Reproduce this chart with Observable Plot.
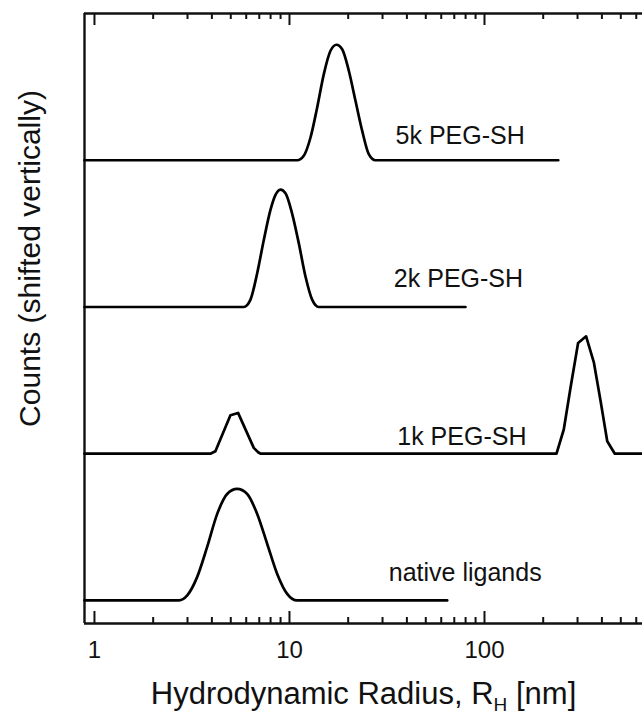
<!DOCTYPE html>
<html><head><meta charset="utf-8">
<script src="https://cdn.jsdelivr.net/npm/d3@7"></script>
<script src="https://cdn.jsdelivr.net/npm/@observablehq/plot@0.6"></script>
<style>
  html,body{margin:0;padding:0;background:#fff;}
  #chart{width:642px;height:715px;}
</style>
</head><body><div id="chart"></div>
<script>
// ---------------- data ----------------
const seriesNames = ["native ligands", "1k PEG-SH", "2k PEG-SH", "5k PEG-SH"];
const verticalShift = [0, 1, 2, 3];

const nativeRadius = [0.889, 2.71, 2.99, 3.36, 3.78, 4.26, 4.79, 5.39, 6.07, 6.83, 7.69, 8.65, 9.73, 10.95, 64.4];
const nativeCounts = [0, 0, 0.034, 0.159, 0.363, 0.59, 0.726, 0.76, 0.726, 0.59, 0.385, 0.181, 0.045, 0, 0];

const peg1kRadius = [0.889, 3.93, 4.17, 4.98, 5.45, 6.56, 6.91, 7.1, 234, 255, 276, 302, 332, 364, 394, 426, 466, 646];
const peg1kCounts = [0, 0, 0.017, 0.262, 0.278, 0.04, 0.01, 0, 0, 0.165, 0.448, 0.755, 0.80, 0.62, 0.358, 0.085, 0, 0];

const peg2kRadius = [0.889, 5.83, 6.31, 6.83, 7.39, 7.99, 8.48, 8.99, 9.54, 10.3, 11.16, 12.08, 13.07, 14.13, 79.9];
const peg2kCounts = [0, 0, 0.05, 0.23, 0.458, 0.662, 0.764, 0.80, 0.775, 0.64, 0.435, 0.208, 0.05, 0, 0];

const peg5kRadius = [0.889, 10.95, 11.84, 12.82, 13.87, 15.0, 16.23, 17.42, 18.63, 20.15, 21.8, 23.6, 25.5, 27.6, 239];
const peg5kCounts = [0, 0, 0.031, 0.155, 0.36, 0.587, 0.746, 0.787, 0.757, 0.61, 0.405, 0.20, 0.042, 0, 0];

const majorTicks = [1, 10, 100];
const majorTickLabels = ["1", "10", "100"];
const minorTicks = [2, 3, 4, 5, 6, 7, 8, 9, 20, 30, 40, 50, 60, 70, 80, 90, 200, 300, 400, 500, 600];

const xTitleMain = "Hydrodynamic Radius, R";
const xTitleSub = "H";
const xTitleEnd = " [nm]";
const yTitle = "Counts (shifted vertically)";

// ---------------- layout (not data) ----------------
const xDomain = [0.889, 646];
const yDomain = [-0.157, 4.0];
const labelRadius = [32.3, 35.7, 34.3, 35.0];
const labelLift = [0.184, 0.117, 0.188, 0.165];

// ---------------- build rows ----------------
const radii = [nativeRadius, peg1kRadius, peg2kRadius, peg5kRadius];
const counts = [nativeCounts, peg1kCounts, peg2kCounts, peg5kCounts];
const rows = [];
seriesNames.forEach((name, i) => {
  radii[i].forEach((r, j) => rows.push({series: name, r, c: counts[i][j] + verticalShift[i]}));
});
const smoothRows = rows.filter(d => d.series !== "1k PEG-SH");
const rows1k = rows.filter(d => d.series === "1k PEG-SH");
const labelRows = seriesNames.map((name, i) => ({name, r: labelRadius[i], y: verticalShift[i] + labelLift[i]}));

const ink = "#111";
const plot = Plot.plot({
  width: 642, height: 715,
  marginLeft: 84, marginRight: 0, marginTop: 13, marginBottom: 92,
  style: {fontFamily: "'Liberation Sans', Arial, Helvetica, sans-serif", background: "#fff", color: ink},
  x: {type: "log", domain: xDomain, axis: null},
  y: {type: "linear", domain: yDomain, axis: null},
  marks: [
    // frame: left, bottom, top
    Plot.ruleX([xDomain[0]], {stroke: ink, strokeWidth: 2.4}),
    Plot.ruleY(yDomain, {stroke: ink, strokeWidth: 2.4}),
    // inward ticks bottom & top
    Plot.ruleX(majorTicks, {stroke: ink, strokeWidth: 2, insetTop: 598}),
    Plot.ruleX(majorTicks, {stroke: ink, strokeWidth: 2, insetBottom: 598}),
    Plot.ruleX(minorTicks, {stroke: ink, strokeWidth: 2, insetTop: 604}),
    Plot.ruleX(minorTicks, {stroke: ink, strokeWidth: 2, insetBottom: 604}),
    // tick labels
    Plot.text(majorTicks, {x: d => d, text: (d, i) => majorTickLabels[i], frameAnchor: "bottom", textAnchor: "middle", lineAnchor: "top", dy: 17, fontSize: 24, fill: ink}),
    // curves
    Plot.line(smoothRows, {x: "r", y: "c", z: "series", curve: "monotone-x", stroke: "#000", strokeWidth: 2.7, strokeLinejoin: "round"}),
    Plot.line(rows1k, {x: "r", y: "c", curve: "linear", stroke: "#000", strokeWidth: 2.7, strokeLinejoin: "round"}),
    // series labels
    Plot.text(labelRows, {x: "r", y: "y", text: "name", textAnchor: "start", lineAnchor: "middle", fontSize: 25, fill: ink}),
    // axis titles
    Plot.text([yTitle], {text: d => d, frameAnchor: "left", rotate: -90, dx: -54, dy: -60, textAnchor: "middle", lineAnchor: "middle", fontSize: 30, fill: ink}),
    Plot.text([xTitleMain], {text: d => d, frameAnchor: "bottom", textAnchor: "middle", lineAnchor: "top", dy: 58, fontSize: 31, fill: ink})
  ]
});

// subscript in x title
d3.select(plot).selectAll("text").filter(function () { return this.textContent === xTitleMain; }).each(function () {
  const t = d3.select(this);
  t.append("tspan").attr("font-size", "19px").attr("dy", "7").text(xTitleSub);
  t.append("tspan").attr("dy", "-7").text(xTitleEnd);
});

document.getElementById("chart").appendChild(plot);
</script>
</body></html>
